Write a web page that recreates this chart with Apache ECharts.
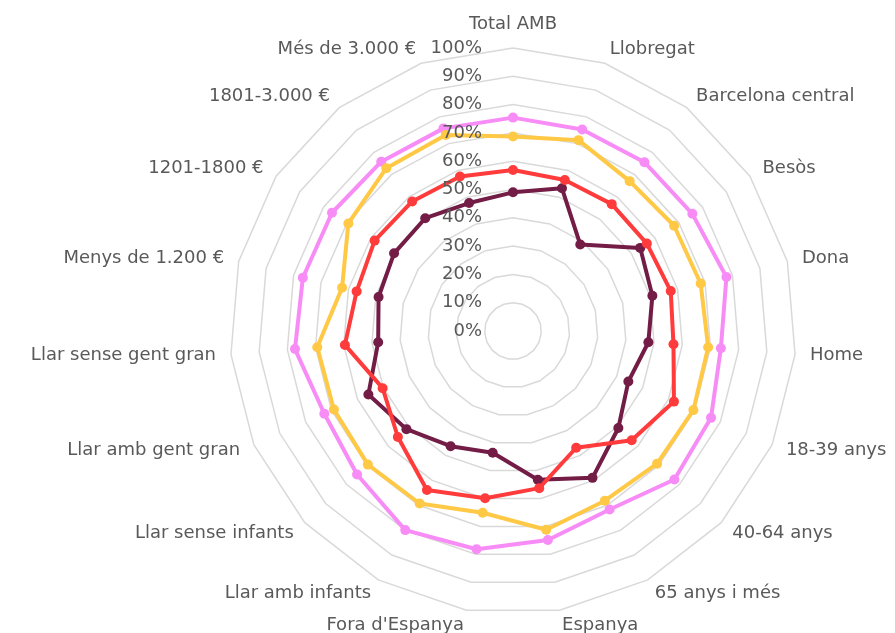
<!DOCTYPE html>
<html>
<head>
<meta charset="utf-8">
<script src="https://cdn.jsdelivr.net/npm/echarts@6/dist/echarts.min.js"></script>
<style>
html,body{margin:0;padding:0;background:#fff;}
#chart{width:895px;height:633px;}
</style>
</head>
<body>
<div id="chart"></div>
<script>
// Categories (clockwise from the top)
const categories = ['Total AMB','Llobregat','Barcelona central','Besòs','Dona','Home','18-39 anys','40-64 anys','65 anys i més','Espanya',"Fora d'Espanya",'Llar amb infants','Llar sense infants','Llar amb gent gran','Llar sense gent gran','Menys de 1.200 €','1201-1800 €','1801-3.000 €','Més de 3.000 €'];

// Series values (%)
const seriesPink   = [75.4, 75.3, 75.6, 75.7, 77.8, 73.7, 76.4, 77.5, 71.7, 74.9, 78.2, 80.0, 74.9, 72.8, 77.3, 76.6, 76.4, 75.8, 75.7];
const seriesYellow = [68.7, 71.3, 67.1, 68.0, 68.4, 69.2, 69.6, 69.2, 68.2, 71.2, 65.1, 69.3, 69.7, 69.1, 69.4, 62.3, 69.5, 72.9, 73.2];
const seriesRed    = [56.9, 56.4, 56.8, 56.5, 57.5, 56.9, 62.1, 57.0, 46.9, 56.3, 59.9, 63.9, 55.3, 50.3, 59.6, 57.0, 58.4, 58.0, 57.7];
const seriesMaroon = [49.0, 53.3, 38.7, 53.7, 50.8, 48.0, 44.5, 50.6, 59.0, 53.3, 43.6, 46.3, 51.2, 55.8, 47.8, 49.0, 50.2, 50.5, 47.8];

// Tick labels
const tickLabels = ['0%','10%','20%','30%','40%','50%','60%','70%','80%','90%','100%'];

const seriesNames = ['Sèrie 1','Sèrie 2','Sèrie 3','Sèrie 4'];
const seriesColors = ['#F88CF6','#FFC845','#FF3B3B','#731C46'];

// ECharts radar runs counter-clockwise: reorder so the picture runs clockwise
const order = [0];
for (let i = categories.length - 1; i >= 1; i--) order.push(i);
const reorder = arr => order.map(i => arr[i]);

const textColor = '#595959';
const fontFamily = 'DejaVu Sans';

const allSeries = [seriesPink, seriesYellow, seriesMaroon, seriesRed];
const allNames = [seriesNames[0], seriesNames[1], seriesNames[3], seriesNames[2]];
const allColors = [seriesColors[0], seriesColors[1], seriesColors[3], seriesColors[2]];

const chart = echarts.init(document.getElementById('chart'), null, {renderer:'canvas'});
chart.setOption({
  animation: false,
  backgroundColor: '#ffffff',
  radar: {
    center: [513, 331],
    radius: 283,
    startAngle: 90,
    shape: 'polygon',
    splitNumber: 10,
    nameGap: 15,
    indicator: reorder(categories).map(n => ({name: n, min: 0, max: 100})),
    axisName: {color: textColor, fontSize: 18, fontFamily: fontFamily},
    axisLine: {show: false},
    axisTick: {show: false},
    axisLabel: {show: false},
    splitLine: {lineStyle: {color: '#D9D9D9', width: 1.5}},
    splitArea: {show: false}
  },
  grid: {left: 513, right: 381, top: 48, bottom: 302},
  xAxis: {type: 'value', show: false},
  yAxis: {
    type: 'value', min: 0, max: 100, interval: 10, z: 10,
    axisLine: {show: false}, axisTick: {show: false}, splitLine: {show: false},
    axisLabel: {
      margin: 31, color: textColor, fontSize: 18, fontFamily: fontFamily,
      formatter: v => tickLabels[Math.round(v / 10)]
    }
  },
  series: allSeries.map((vals, k) => ({
    type: 'radar',
    name: allNames[k],
    symbol: 'circle',
    symbolSize: 10,
    lineStyle: {width: 4, color: allColors[k]},
    itemStyle: {color: allColors[k]},
    data: [{value: reorder(vals), name: allNames[k]}]
  }))
});
</script>
</body>
</html>
